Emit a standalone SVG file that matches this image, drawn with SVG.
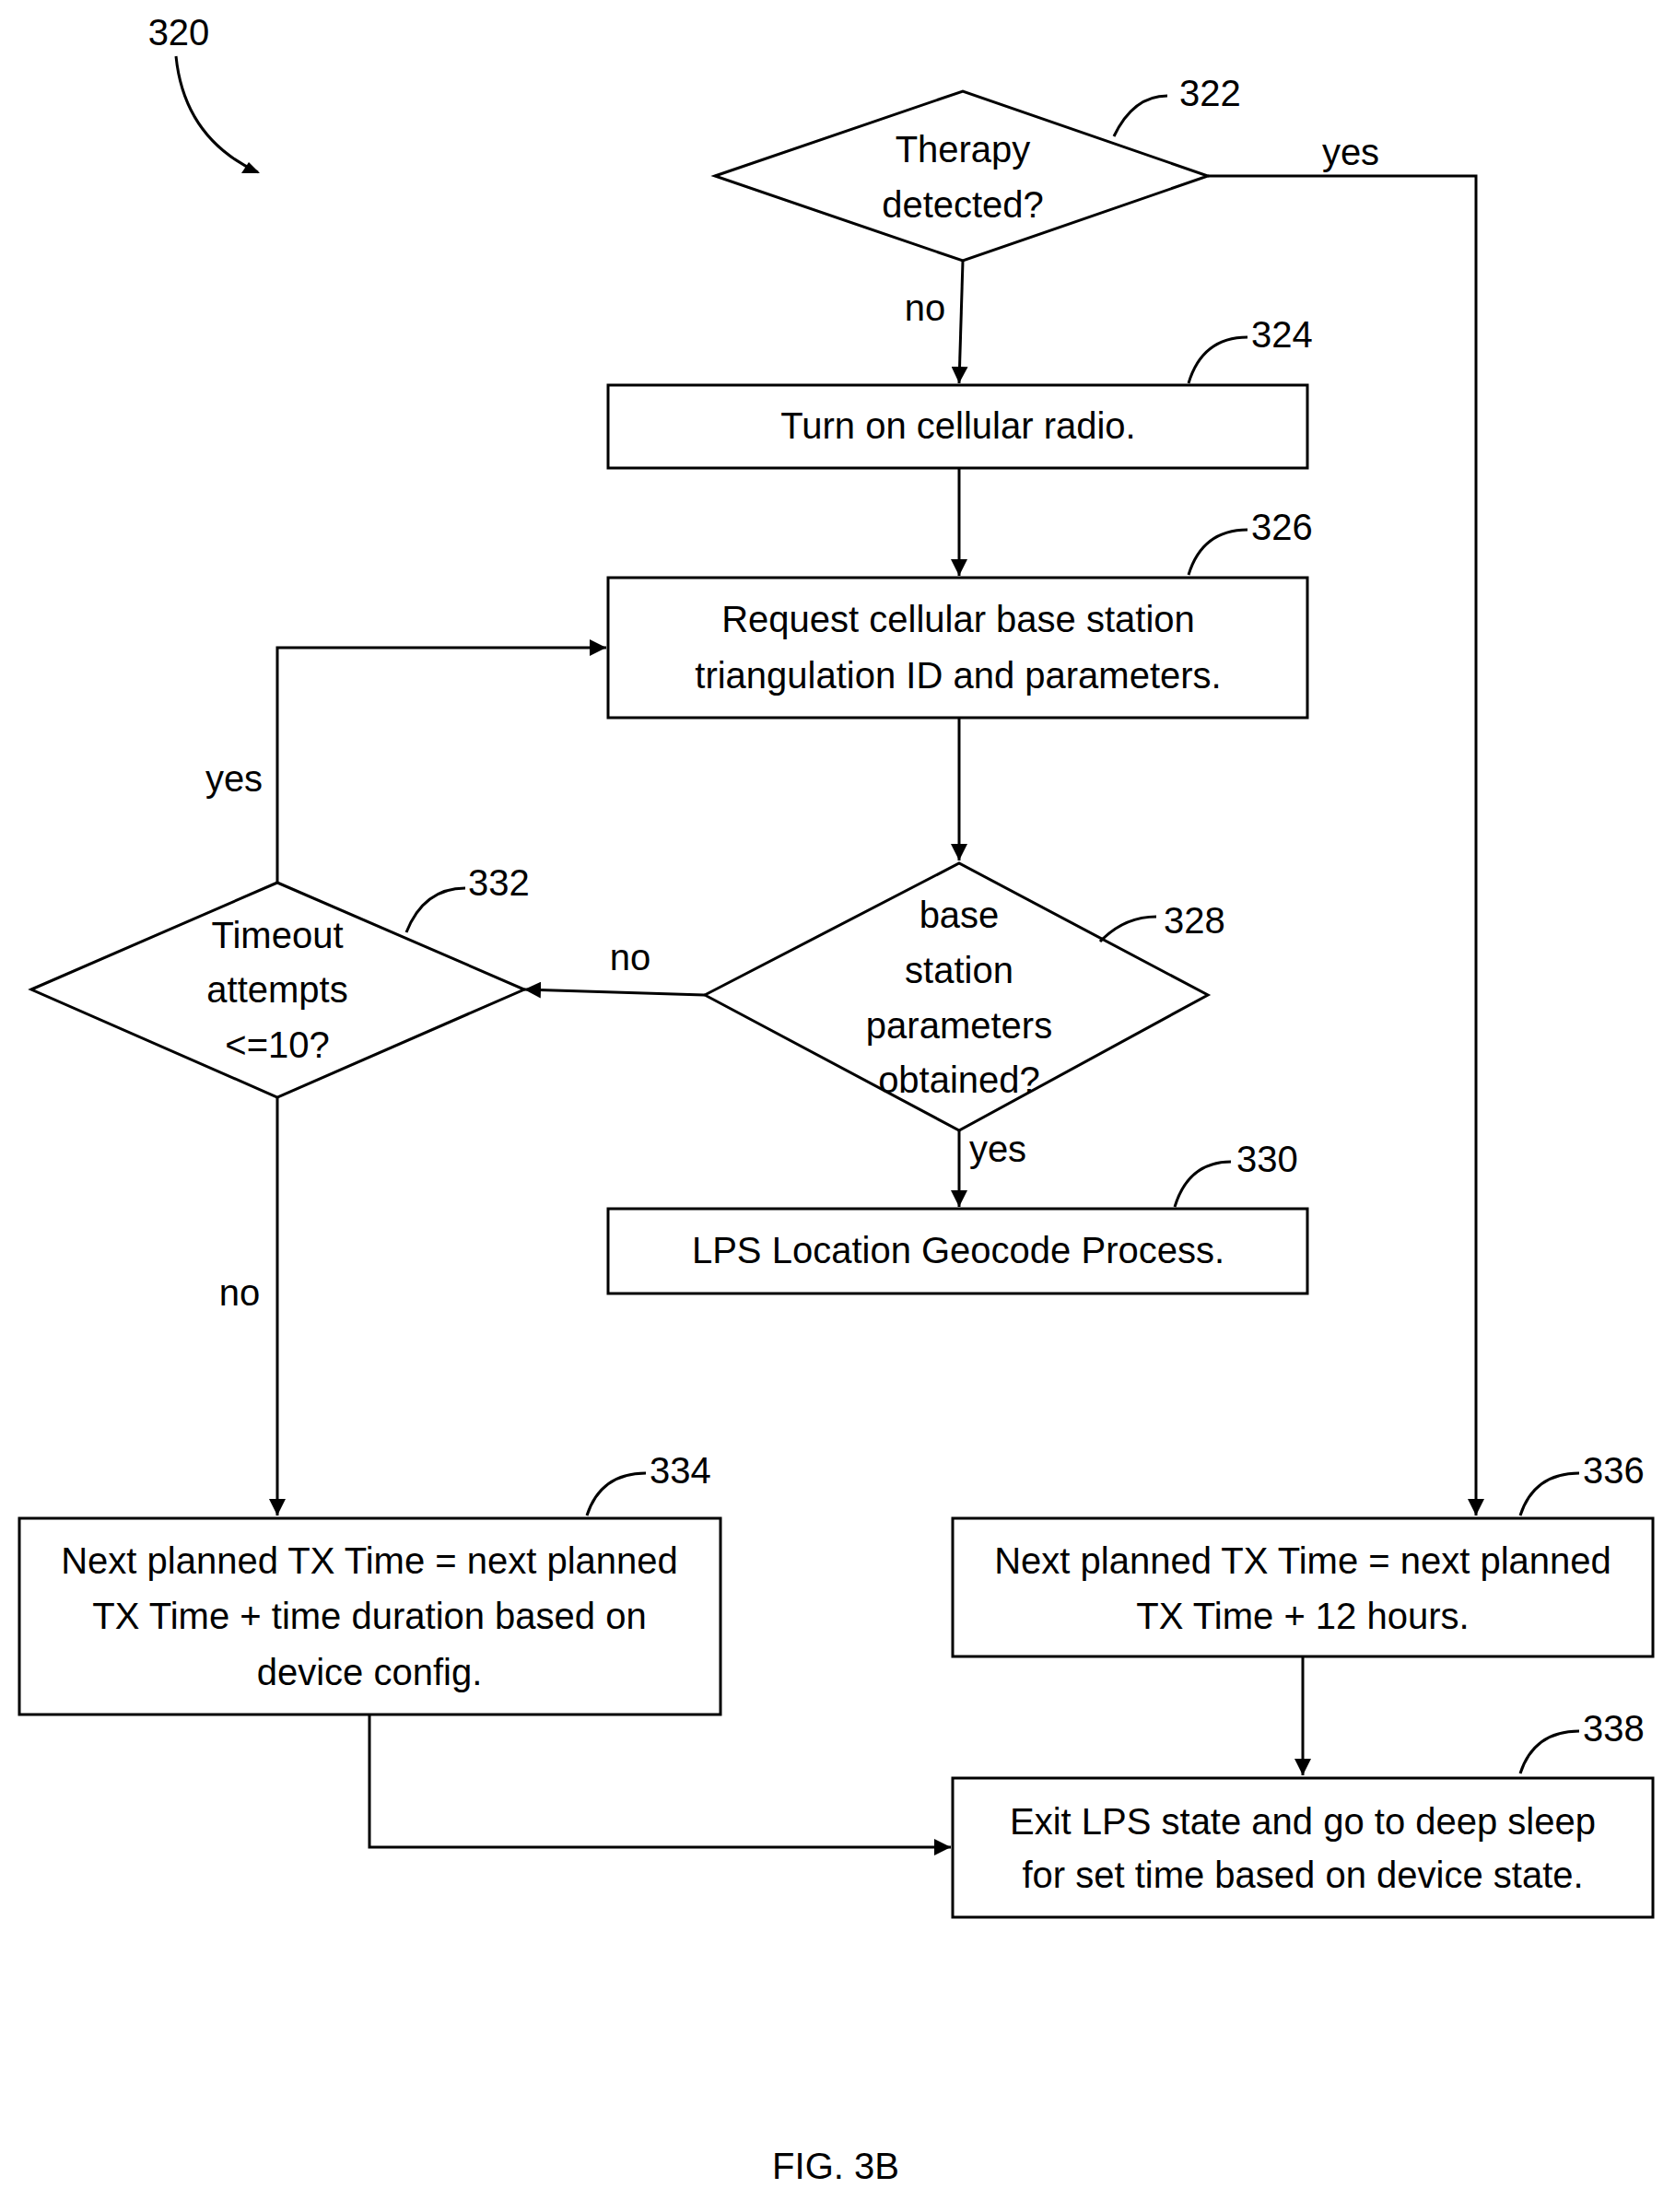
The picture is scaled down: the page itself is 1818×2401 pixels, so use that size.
<svg xmlns="http://www.w3.org/2000/svg" width="1818" height="2401" viewBox="0 0 1818 2401">
<style>
.s{fill:#fff;stroke:#000;stroke-width:3}
.l{fill:none;stroke:#000;stroke-width:3}
.a{fill:none;stroke:#000;stroke-width:3;marker-end:url(#ah)}
text{font-family:"Liberation Sans",Arial,sans-serif;font-size:40px;fill:#000;text-anchor:middle;dominant-baseline:middle}
.n{text-anchor:start}
</style>
<defs><marker id="ah" viewBox="0 0 10 10" refX="10" refY="5" markerWidth="7" markerHeight="7" markerUnits="userSpaceOnUse" orient="auto"><path d="M0,0 L10,5 L0,10 z" fill="#000" transform="scale(1)"/></marker>
<marker id="ah2" viewBox="0 0 10 10" refX="10" refY="5" markerWidth="18" markerHeight="18" markerUnits="userSpaceOnUse" orient="auto"><path d="M0,0 L10,5 L0,10 z" fill="#000"/></marker></defs>
<style>.a{marker-end:url(#ah2)}</style>
<g id="connectors">
<path class="a" d="M1311,191 H1602 V1645"/>
<path class="a" d="M1045,283 L1041,416"/>
<path class="a" d="M1041,508 V625"/>
<path class="a" d="M1041,779 V934"/>
<path class="a" d="M1041,1227 V1310"/>
<path class="a" d="M765,1080 L569,1074"/>
<path class="a" d="M301,958 V703 H658"/>
<path class="a" d="M301,1191 V1645"/>
<path class="a" d="M1414,1798 V1927"/>
<path class="a" d="M401,1861 V2005 H1032"/>
<path class="l" d="M191,61 Q200,150 280,187"/>
<path d="M282,188 L262,188 L270,176 z" fill="#000"/>
<text x="1466" y="168">yes</text>
<text x="1004" y="337">no</text>
<text x="1083" y="1250">yes</text>
<text x="684" y="1042">no</text>
<text x="254" y="848">yes</text>
<text x="260" y="1406">no</text>
</g>
<text x="194" y="38" font-size="36">320</text>
<g id="n322"><path class="s" d="M776,191 L1045,99 L1311,191 L1045,283 z"/><text x="1045" y="165">Therapy</text><text x="1045" y="225">detected?</text>
<path class="l" d="M1209,148 Q1230,104 1267,104"/><text class="n" x="1280" y="104">322</text></g>
<g id="n324"><rect class="s" x="660" y="418" width="759" height="90"/><text x="1040" y="465">Turn on cellular radio.</text>
<path class="l" d="M1290,416 Q1305,366 1354,366"/><text class="n" x="1358" y="366">324</text></g>
<g id="n326"><rect class="s" x="660" y="627" width="759" height="152"/><text x="1040" y="675">Request cellular base station</text><text x="1040" y="736">triangulation ID and parameters.</text>
<path class="l" d="M1290,624 Q1305,575 1354,575"/><text class="n" x="1358" y="575">326</text></g>
<g id="n328"><path class="s" d="M765,1080 L1041,937 L1311,1080 L1041,1227 z"/><text x="1041" y="996">base</text><text x="1041" y="1056">station</text><text x="1041" y="1116">parameters</text><text x="1041" y="1175">obtained?</text>
<path class="l" d="M1194,1022 Q1220,995 1255,995"/><text class="n" x="1263" y="1002">328</text></g>
<g id="n330"><rect class="s" x="660" y="1312" width="759" height="92"/><text x="1040" y="1360">LPS Location Geocode Process.</text>
<path class="l" d="M1275,1310 Q1290,1261 1336,1261"/><text class="n" x="1342" y="1261">330</text></g>
<g id="n332"><path class="s" d="M34,1074 L301,958 L569,1074 L301,1191 z"/><text x="301" y="1018">Timeout</text><text x="301" y="1077">attempts</text><text x="301" y="1137">&lt;=10?</text>
<path class="l" d="M441,1012 Q460,964 505,964"/><text class="n" x="508" y="961">332</text></g>
<g id="n334"><rect class="s" x="21" y="1648" width="761" height="213"/><text x="401" y="1697">Next planned TX Time = next planned</text><text x="401" y="1757">TX Time + time duration based on</text><text x="401" y="1818">device config.</text>
<path class="l" d="M637,1645 Q652,1599 701,1599"/><text class="n" x="705" y="1599">334</text></g>
<g id="n336"><rect class="s" x="1034" y="1648" width="760" height="150"/><text x="1414" y="1697">Next planned TX Time = next planned</text><text x="1414" y="1757">TX Time + 12 hours.</text>
<path class="l" d="M1650,1645 Q1665,1599 1714,1599"/><text class="n" x="1718" y="1599">336</text></g>
<g id="n338"><rect class="s" x="1034" y="1930" width="760" height="151"/><text x="1414" y="1980">Exit LPS state and go to deep sleep</text><text x="1414" y="2038">for set time based on device state.</text>
<path class="l" d="M1650,1925 Q1665,1879 1714,1879"/><text class="n" x="1718" y="1879">338</text></g>
<text x="907" y="2354" font-size="54">FIG. 3B</text>
</svg>
